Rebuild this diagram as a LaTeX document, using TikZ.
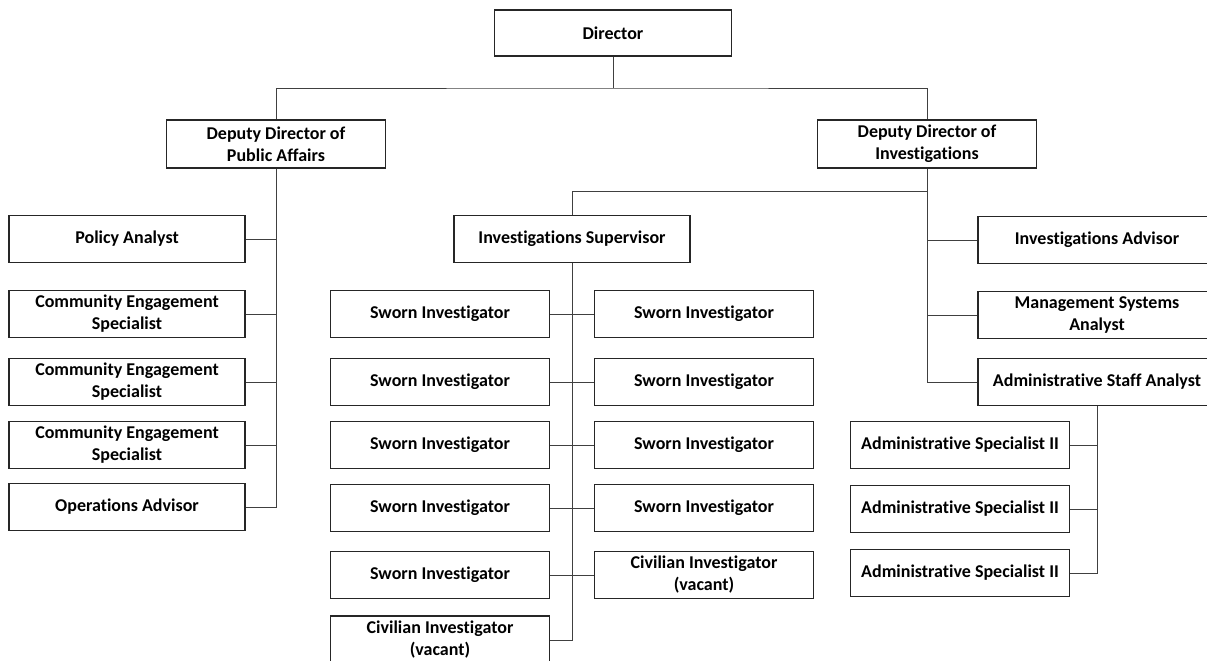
\documentclass[tikz,border=0pt]{standalone}
\usepackage{fontspec}
\setmainfont{Carlito}[Ligatures={NoCommon}]
\tikzset{
  post/.style={draw=black!85, line width=1.4pt, minimum width=219pt, minimum height=47pt,
    inner sep=1pt, align=center, font=\bfseries\fontsize{18}{22}\selectfont},
  wide/.style={post, minimum width=236pt},
  link/.style={draw=black!75, line width=0.9pt}
}
\begin{document}
\begin{tikzpicture}[x=1pt, y=-1pt]
        \clip (0,0) rectangle (1207,661);
        % top level
        \node[post, minimum width=237pt, minimum height=46pt] (dir) at (613,33) {Director};
        \node[post, minimum height=48pt] (ddpa) at (276,144) {Deputy Director of\\Public Affairs};
        \node[post, minimum height=48pt] (ddi) at (927,144) {Deputy Director of\\Investigations};
        \coordinate (top) at (613,88);
        \draw[link] (dir.south) -- (top);
        \draw[link] (ddpa.north) |- (top) -| (ddi.north);
        % public affairs
        \node[wide] (pa) at (127,239) {Policy Analyst};
        \node[wide] (ces1) at (127,314) {Community Engagement\\Specialist};
        \node[wide] (ces2) at (127,382) {Community Engagement\\Specialist};
        \node[wide] (ces3) at (127,445) {Community Engagement\\Specialist};
        \node[wide] (ops) at (127,507) {Operations Advisor};
        \draw[link] (ddpa.south) |- (ops.east);
        \foreach \n in {pa,ces1,ces2,ces3}
        {
            \draw[link] (\n.east) -- (\n.east -| ddpa.south);
        }
        % investigations
        \node[wide] (sup) at (572,239) {Investigations Supervisor};
        \coordinate (split) at (927,191);
        \draw[link] (sup.north) |- (split);
        \node[wide, minimum width=238pt] (ia) at (1097,240) {Investigations Advisor};
        \node[wide, minimum width=238pt] (msa) at (1097,315) {Management Systems\\Analyst};
        \node[wide, minimum width=238pt] (asa) at (1097,382) {Administrative Staff Analyst};
        \draw[link] (ddi.south) |- (asa.west);
        \draw[link] (ia.west) -- (ia.west -| ddi.south);
        \draw[link] (msa.west) -- (msa.west -| ddi.south);
        % sworn investigators
        \foreach \i/\y in {1/314,2/382,3/445,4/508}
        {
            \node[post] (swl\i) at (440,\y) {Sworn Investigator};
            \node[post] (swr\i) at (704,\y) {Sworn Investigator};
            \draw[link] (swl\i.east) -- (swr\i.west);
        }
        \node[post] (swl5) at (440,575) {Sworn Investigator};
        \node[post] (civr) at (704,575) {Civilian Investigator\\(vacant)};
        \draw[link] (swl5.east) -- (civr.west);
        \node[post, minimum height=48pt] (civl) at (440,640) {Civilian Investigator\\(vacant)};
        \draw[link] (sup.south) |- (civl.east);
        % administrative
        \node[post] (as1) at (960,445) {Administrative Specialist II};
        \node[post] (as2) at (960,509) {Administrative Specialist II};
        \node[post] (as3) at (960,573) {Administrative Specialist II};
        \draw[link] (asa.south) |- (as3.east);
        \draw[link] (as1.east) -- (as1.east -| asa.south);
        \draw[link] (as2.east) -- (as2.east -| asa.south);
\end{tikzpicture}
\end{document}
